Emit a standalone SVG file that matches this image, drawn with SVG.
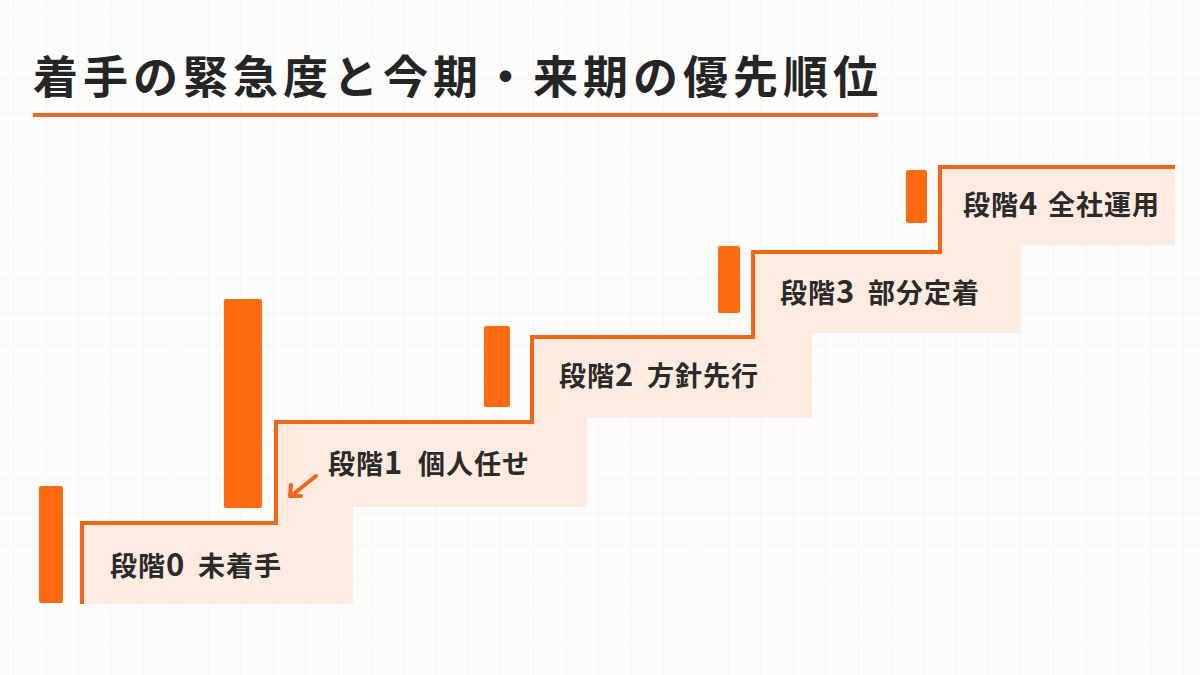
<svg xmlns="http://www.w3.org/2000/svg" width="1200" height="675" viewBox="0 0 1200 675">
  <style>
    .title { font-family: "Noto Sans CJK JP", "Noto Sans", sans-serif; font-weight: 700; font-size: 45px; letter-spacing: 5px; fill: #252525; }
    .label { font-family: "Noto Sans CJK JP", "Noto Sans", sans-serif; font-weight: 700; font-size: 27px; letter-spacing: 1px; fill: #2a2a2a; }
    .num { font-size: 31px; }
    .bar { fill: #fd6a0f; }
    .stepfill { fill: #fdebdf; }
    .stairline { fill: none; stroke: #f0671c; stroke-width: 4; stroke-linejoin: miter; }
    .arrow { fill: none; stroke: #f0671c; stroke-width: 4; stroke-linecap: round; stroke-linejoin: round; }
  </style>
  <defs>
    <pattern id="grid" x="13" y="12" width="32.5" height="33.33" patternUnits="userSpaceOnUse">
      <path d="M0 0 H32.5 M0 0 V33.33" fill="none" stroke="#f0f0f0" stroke-width="1.2"/>
    </pattern>
  </defs>
  <rect width="1200" height="675" fill="#fcfcfb"/>
  <rect width="1200" height="675" fill="url(#grid)"/>

  <g id="title">
    <text class="title" x="33" y="94">着手の緊急度と今期・来期の優先順位</text>
    <rect x="33" y="113" width="845" height="4" fill="#e6692a"/>
  </g>

  <g id="step0">
    <polygon class="stepfill" points="82,523 276,523 276,507 353,507 353,604 82,604"/>
    <rect class="bar" x="39" y="486" width="24" height="117" rx="2"/>
    <text class="label" x="110" y="576">段階<tspan class="num">0</tspan><tspan x="198">未着手</tspan></text>
  </g>
  <g id="step1">
    <polygon class="stepfill" points="276,422 532,422 532,418 587,418 587,507 276,507"/>
    <rect class="bar" x="224" y="299" width="38" height="209" rx="2"/>
    <text class="label" x="328" y="474">段階<tspan class="num">1</tspan><tspan x="418">個人任せ</tspan></text>
  </g>
  <g id="step2">
    <polygon class="stepfill" points="532,337 753,337 753,333 812,333 812,418 532,418"/>
    <rect class="bar" x="484" y="326" width="26" height="81" rx="2"/>
    <text class="label" x="559" y="386">段階<tspan class="num">2</tspan><tspan x="647">方針先行</tspan></text>
  </g>
  <g id="step3">
    <polygon class="stepfill" points="753,252 940,252 940,245 1020,245 1020,333 753,333"/>
    <rect class="bar" x="718" y="246" width="22" height="67" rx="2"/>
    <text class="label" x="780" y="303">段階<tspan class="num">3</tspan><tspan x="868">部分定着</tspan></text>
  </g>
  <g id="step4">
    <rect class="stepfill" x="940" y="167" width="235" height="78"/>
    <rect class="bar" x="906" y="170" width="21" height="53" rx="2"/>
    <text class="label" x="963" y="215">段階<tspan class="num">4</tspan><tspan x="1048">全社運用</tspan></text>
  </g>

  <g id="connectors">
    <path class="stairline" d="M82 604 V523 H276 V422 H532 V337 H753 V252 H940 V167 H1175"/>
    <path class="arrow" d="M316 476 L291 496"/>
    <path class="arrow" d="M291 485 L290 496 L301 496"/>
  </g>
</svg>
